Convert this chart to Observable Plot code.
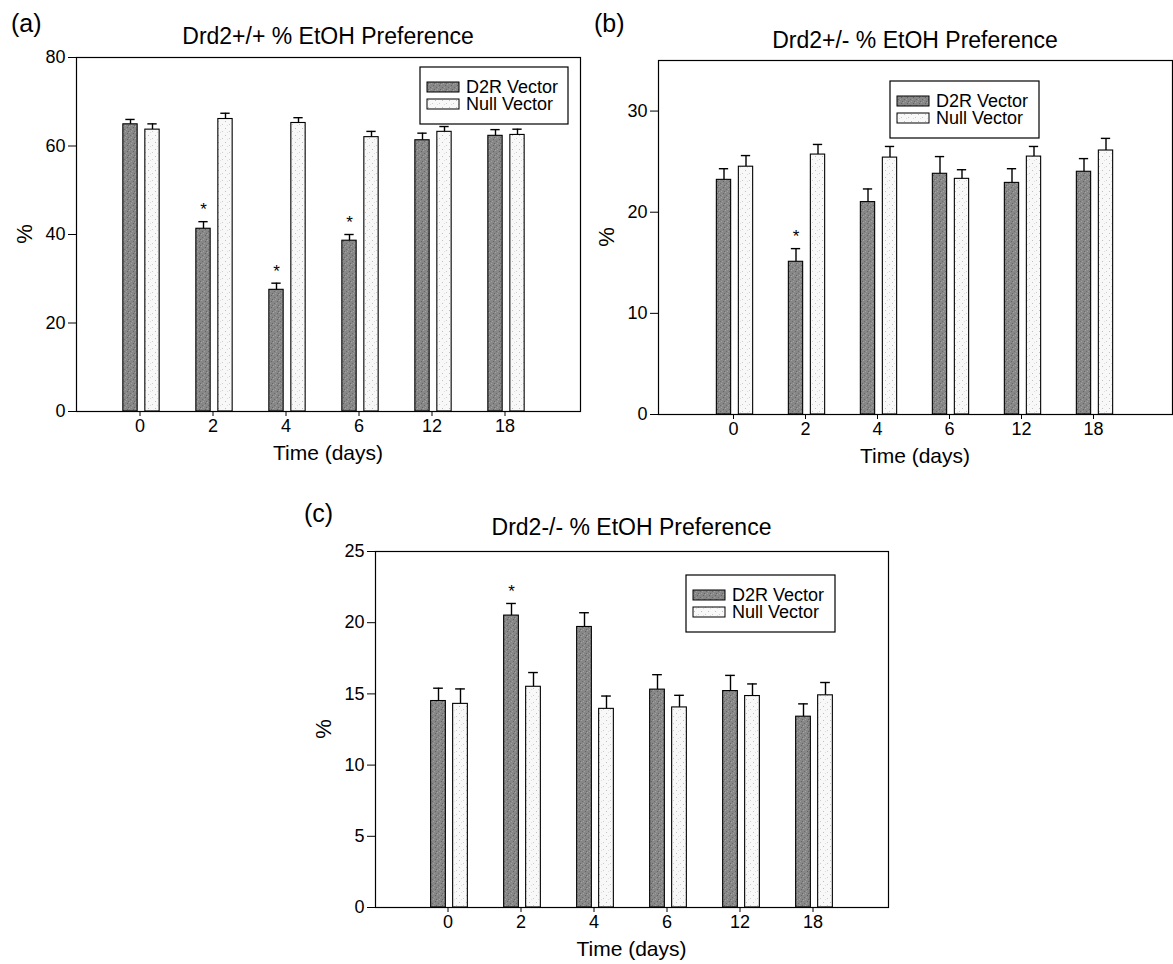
<!DOCTYPE html>
<html><head><meta charset="utf-8">
<script src="https://cdn.jsdelivr.net/npm/d3@7"></script>
<script src="https://cdn.jsdelivr.net/npm/@observablehq/plot@0.6"></script>
<style>
body{margin:0;background:#fff;}
#page{position:relative;width:1173px;height:964px;overflow:hidden;background:#fff;font-family:"Liberation Sans",Arial,sans-serif;}
#page > svg{position:absolute;overflow:visible;}
</style></head>
<body><div id="page"></div>
<script>
// ---------- data ----------
const times = ["0", "2", "4", "6", "12", "18"];
const series = ["D2R Vector", "Null Vector"];

const aTitle = "Drd2+/+ % EtOH Preference";
const aD2R = [64.9, 41.3, 27.5, 38.6, 61.3, 62.3];
const aD2RErr = [1.1, 1.6, 1.5, 1.4, 1.6, 1.4];
const aNull = [63.7, 66.1, 65.2, 62.0, 63.2, 62.5];
const aNullErr = [1.3, 1.3, 1.2, 1.3, 1.2, 1.3];
const aSig = [false, true, true, true, false, false];
const aYTicks = [0, 20, 40, 60, 80];

const bTitle = "Drd2+/- % EtOH Preference";
const bD2R = [23.2, 15.1, 21.0, 23.8, 22.9, 24.0];
const bD2RErr = [1.1, 1.3, 1.3, 1.7, 1.4, 1.3];
const bNull = [24.5, 25.7, 25.4, 23.3, 25.5, 26.1];
const bNullErr = [1.1, 1.0, 1.1, 0.9, 1.0, 1.2];
const bSig = [false, true, false, false, false, false];
const bYTicks = [0, 10, 20, 30];

const cTitle = "Drd2-/- % EtOH Preference";
const cD2R = [14.5, 20.5, 19.7, 15.3, 15.2, 13.4];
const cD2RErr = [0.9, 0.85, 1.0, 1.05, 1.1, 0.9];
const cNull = [14.3, 15.5, 13.95, 14.05, 14.85, 14.9];
const cNullErr = [1.05, 1.0, 0.9, 0.85, 0.85, 0.9];
const cSig = [false, true, false, false, false, false];
const cYTicks = [0, 5, 10, 15, 20, 25];

const xLabel = "Time (days)";
const yLabel = "%";
const panelTags = ["(a)", "(b)", "(c)"];

// ---------- layout ----------
const FONT = "'Liberation Sans', Arial, sans-serif";
const panels = [
  {tag: panelTags[0], title: aTitle, d2r: aD2R, d2rErr: aD2RErr, nul: aNull, nulErr: aNullErr, sig: aSig, yTicks: aYTicks, yMax: 80,
   left: 0, top: 0, width: 590, height: 480, ml: 76, mr: 10, mt: 57, mb: 69, po: 0.42, align: 0.41,
   legend: [420, 67, 148], tagPos: [11, 32], titleY: 44},
  {tag: panelTags[1], title: bTitle, d2r: bD2R, d2rErr: bD2RErr, nul: bNull, nulErr: bNullErr, sig: bSig, yTicks: bYTicks, yMax: 35,
   left: 590, top: 0, width: 583, height: 480, ml: 68, mr: 1, mt: 60, mb: 66, po: 0.535, align: 0.47,
   legend: [890, 81, 149], tagPos: [594, 32], titleY: 48},
  {tag: panelTags[2], title: cTitle, d2r: cD2R, d2rErr: cD2RErr, nul: cNull, nulErr: cNullErr, sig: cSig, yTicks: cYTicks, yMax: 25,
   left: 290, top: 480, width: 610, height: 484, ml: 85, mr: 12, mt: 71, mb: 57, po: 0.5, align: 0.48,
   legend: [686, 575, 149], tagPos: [304, 522], titleY: 535}
];

const page = document.getElementById("page");

// patterns (stippled fills)
const defs = d3.select(page).append("svg").attr("width", 0).attr("height", 0).style("position", "absolute");
const pd = defs.append("defs");
const pat1 = pd.append("pattern").attr("id", "pD2R").attr("width", 6).attr("height", 6).attr("patternUnits", "userSpaceOnUse");
pat1.append("rect").attr("width", 6).attr("height", 6).attr("fill", "#878787");
[[1,1,"#626262"],[4,3,"#6a6a6a"],[2,5,"#666666"],[3,0,"#a4a4a4"],[0,3,"#9e9e9e"],[5,5,"#a2a2a2"]].forEach(([x,y,c]) =>
  pat1.append("rect").attr("x", x).attr("y", y).attr("width", 1).attr("height", 1).attr("fill", c));
const pat2 = pd.append("pattern").attr("id", "pNull").attr("width", 7).attr("height", 7).attr("patternUnits", "userSpaceOnUse");
pat2.append("rect").attr("width", 7).attr("height", 7).attr("fill", "#f8f8f8");
[[1,2,"#c0c0c0"],[5,5,"#cccccc"],[3,6,"#dedede"]].forEach(([x,y,c]) =>
  pat2.append("rect").attr("x", x).attr("y", y).attr("width", 1).attr("height", 1).attr("fill", c));
const fills = ["url(#pD2R)", "url(#pNull)"];

const overlay = [];

panels.forEach(cfg => {
  const rows = [];
  times.forEach((t, i) => {
    rows.push({time: t, s: 0, value: cfg.d2r[i], err: cfg.d2rErr[i], sig: cfg.sig[i]});
    rows.push({time: t, s: 1, value: cfg.nul[i], err: cfg.nulErr[i], sig: false});
  });
  const W = cfg.width - cfg.ml - cfg.mr;
  const step = W / (times.length + 2 * cfg.po);
  const half = step / 2;
  const barW = 15;
  const offs = [-9.5, 12.5];
  const marks = [];
  [0, 1].forEach(s => {
    const d = rows.filter(r => r.s === s);
    const c = offs[s];
    marks.push(Plot.ruleX(d, {x: "time", y1: "value", y2: r => r.value + r.err, dx: c, stroke: "black", strokeWidth: 1.4}));
    marks.push(Plot.tickY(d, {x: "time", y: r => r.value + r.err, insetLeft: half + c - 5, insetRight: half - c - 5, stroke: "black", strokeWidth: 1.4}));
    marks.push(Plot.barY(d, {x: "time", y: "value", fill: fills[s], stroke: "black", strokeWidth: 1.1,
      insetLeft: half + c - barW / 2, insetRight: half - c - barW / 2}));
  });
  marks.push(Plot.text(rows.filter(r => r.sig), {x: "time", y: r => r.value + r.err, text: () => "*", dx: offs[0], dy: -12, fontSize: 17, fill: "black"}));
  marks.push(Plot.frame({stroke: "black", strokeWidth: 1.2}));
  marks.push(Plot.axisX({tickSize: 5, tickPadding: 3, fontSize: 18, label: null, stroke: "black", color: "black"}));
  marks.push(Plot.axisY({ticks: cfg.yTicks, tickSize: 8, tickPadding: 3, fontSize: 18, label: null, tickFormat: d => String(d), stroke: "black", color: "black"}));

  const svg = Plot.plot({
    width: cfg.width, height: cfg.height,
    marginLeft: cfg.ml, marginRight: cfg.mr, marginTop: cfg.mt, marginBottom: cfg.mb,
    x: {type: "band", domain: times, paddingInner: 0, paddingOuter: cfg.po, align: cfg.align},
    y: {domain: [0, cfg.yMax]},
    style: {fontSize: "18px", fontFamily: FONT, color: "black", background: "transparent", overflow: "visible"},
    marks
  });
  svg.style.left = cfg.left + "px";
  svg.style.top = cfg.top + "px";
  page.appendChild(svg);

  const fl = cfg.left + cfg.ml, fr = cfg.left + cfg.width - cfg.mr;
  const ft = cfg.top + cfg.mt, fb = cfg.top + cfg.height - cfg.mb;
  overlay.push({cfg, fl, fr, ft, fb});
});

// decorations overlay
const ov = d3.select(page).append("svg").attr("width", 1173).attr("height", 964)
  .style("left", "0px").style("top", "0px").style("pointer-events", "none")
  .style("font-family", FONT);
overlay.forEach(({cfg, fl, fr, ft, fb}) => {
  const cx = (fl + fr) / 2;
  ov.append("text").attr("x", cfg.tagPos[0]).attr("y", cfg.tagPos[1]).attr("font-size", 25).text(cfg.tag);
  ov.append("text").attr("x", cx).attr("y", cfg.titleY).attr("font-size", 23).attr("text-anchor", "middle").text(cfg.title);
  ov.append("text").attr("x", cx).attr("y", fb + 49).attr("font-size", 21).attr("text-anchor", "middle").text(xLabel);
  ov.append("text").attr("transform", `translate(${fl - 44},${(ft + fb) / 2}) rotate(-90)`).attr("font-size", 22)
    .attr("text-anchor", "middle").text(yLabel);
  const [lx, ly, lw] = cfg.legend;
  const g = ov.append("g");
  g.append("rect").attr("x", lx).attr("y", ly).attr("width", lw).attr("height", 57).attr("fill", "white").attr("stroke", "black").attr("stroke-width", 1.2);
  series.forEach((name, k) => {
    g.append("rect").attr("x", lx + 7).attr("y", ly + 15 + 17 * k).attr("width", 32).attr("height", 10)
      .attr("fill", fills[k]).attr("stroke", "black").attr("stroke-width", 1);
  });
  const t = g.append("text").attr("font-size", 18);
  series.forEach((name, k) => {
    t.append("tspan").attr("x", lx + 46).attr("y", ly + 26 + 17 * k).text(name);
  });
});
</script>
</body></html>
